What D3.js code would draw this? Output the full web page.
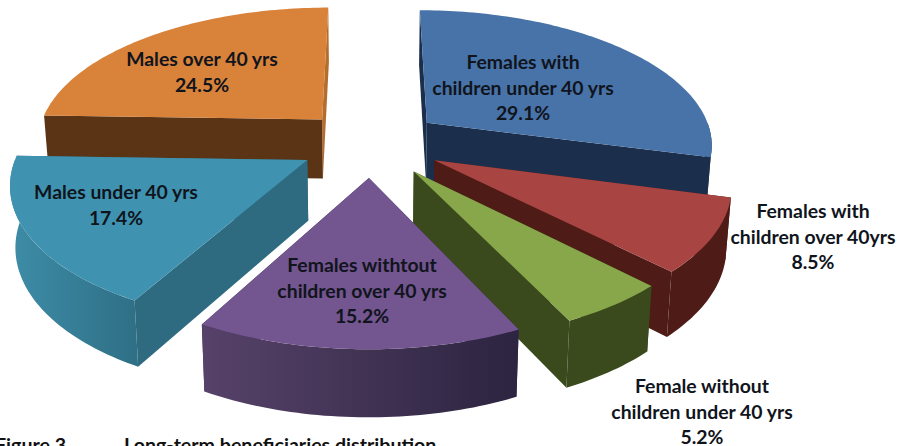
<!DOCTYPE html>
<html>
<head>
<meta charset="utf-8">
<script src="https://d3js.org/d3.v7.min.js"></script>
<style>
html, body { margin: 0; padding: 0; background: #fff; overflow: hidden; }
text { font-family: Lato, "Open Sans", sans-serif; font-weight: 700; }
</style>
</head>
<body>
<div id="chart"></div>
<script>
// share of long-term beneficiaries, clockwise from twelve o'clock
var groups = ["Females with children under 40 yrs", "Females with children over 40yrs",
  "Female without children under 40 yrs", "Females withtout children over 40 yrs",
  "Males under 40 yrs", "Males over 40 yrs"];
var shares = [29.1, 8.5, 5.2, 15.2, 17.4, 24.5];

var topColors = ["#4873a8", "#a84543", "#87a74a", "#73558f", "#3f93b0", "#d9823a"];
var wallColors = ["#1b2f4c", "#4e1b17", "#3a4a1d", "#3a2d50", "#2f6b80", "#5a3414"];
var backWallColors = ["#1b2f4c", "#4e1b17", "#3a4a1d", "#3a2d50", "#2f6b80", "#b56d2e"];
var outerFrom = ["#1b2f4c", "#4e1b17", "#3a4a1d", "#574269", "#3d8ba6", "#5a3414"];
var outerTo = ["#1b2f4c", "#4e1b17", "#3a4a1d", "#2c2440", "#2f7086", "#5a3414"];

// label lines, one block per slice
var labelLines = [
  ["Females with", "children under 40 yrs", "29.1%"],
  ["Females with", "children over 40yrs", "8.5%"],
  ["Female without", "children under 40 yrs", "5.2%"],
  ["Females withtout", "children over 40 yrs", "15.2%"],
  ["Males under 40 yrs", "17.4%"],
  ["Males over 40 yrs", "24.5%"]
];
var labelX = [523, 813, 702, 362, 116, 202];
var labelY = [69, 218, 393, 272, 199, 66];

var width = 897, height = 446;
var cx = 371, cy = 143;
var radius = 287, explode = 72, thick = 60;
var depth = 1955, horizon = 917; // perspective of the ground plane

var svg = d3.select("#chart").append("svg")
  .attr("width", width)
  .attr("height", height);
var defs = svg.append("defs");

// ground plane -> screen; drop = 1 gives the underside of the slice
function project(gx, gy, drop) {
  var s = depth / (depth - gy);
  var x = cx + gx * s * (1 - 0.015 * drop);
  var y = cy + horizon * (s - 1) + drop * thick * (1 + (s - 1) * 0.6);
  return [x, y];
}

var line = d3.line();

var arcs = d3.pie().sort(null).value(function(d) { return d; })(shares);

function rimPoint(a, o, drop) {
  return project(o[0] + radius * Math.sin(a), o[1] - radius * Math.cos(a), drop);
}

function arcPoints(a0, a1, o, drop) {
  var n = Math.max(2, Math.ceil((a1 - a0) / 0.02));
  return d3.range(n + 1).map(function(i) {
    return rimPoint(a0 + (a1 - a0) * i / n, o, drop);
  });
}

// back to front so nearer slices cover the ones behind
var order = [5, 0, 1, 4, 2, 3];

order.forEach(function(i) {
  var d = arcs[i];
  var a0 = d.startAngle, a1 = d.endAngle, mid = (a0 + a1) / 2;
  var o = [explode * Math.sin(mid), -explode * Math.cos(mid)];
  var g = svg.append("g");

  var apexTop = project(o[0], o[1], 0), apexBottom = project(o[0], o[1], 1);

  // radial walls: the ones facing away first
  var walls = [a0, a1].map(function(a) {
    var facing = a === a0 ? Math.sin(a) < -1e-6 : Math.sin(a) > 1e-6;
    return { a: a, facing: facing };
  }).sort(function(p, q) { return p.facing - q.facing; });

  walls.forEach(function(w) {
    g.append("path")
      .attr("d", line([apexTop, rimPoint(w.a, o, 0), rimPoint(w.a, o, 1), apexBottom]) + "Z")
      .attr("fill", w.facing ? wallColors[i] : backWallColors[i]);
  });

  // only the near part of the rim is ever seen
  var r0 = Math.max(a0, Math.PI / 2), r1 = Math.min(a1, Math.PI * 1.5);
  if (r1 > r0) {
    var id = "rim" + i;
    var left = rimPoint(r1, o, 0)[0], right = rimPoint(r0, o, 0)[0];
    var grad = defs.append("linearGradient").attr("id", id)
      .attr("gradientUnits", "userSpaceOnUse")
      .attr("x1", left).attr("x2", right).attr("y1", 0).attr("y2", 0);
    grad.append("stop").attr("offset", 0).attr("stop-color", outerFrom[i]);
    grad.append("stop").attr("offset", 1).attr("stop-color", outerTo[i]);
    var upper = arcPoints(r0, r1, o, 0), lower = arcPoints(r0, r1, o, 1).reverse();
    g.append("path")
      .attr("d", line(upper.concat(lower)) + "Z")
      .attr("fill", "url(#" + id + ")");
  }

  g.append("path")
    .attr("d", line([apexTop].concat(arcPoints(a0, a1, o, 0))) + "Z")
    .attr("fill", topColors[i]);
});

// labels
labelLines.forEach(function(lines, i) {
  var t = svg.append("text")
    .attr("text-anchor", "middle")
    .attr("font-size", 19.4)
    .attr("fill", "#10141c");
  lines.forEach(function(l, j) {
    t.append("tspan")
      .attr("x", labelX[i])
      .attr("y", labelY[i] + j * 25.5)
      .text(l);
  });
});

// caption
svg.append("text").attr("x", -5).attr("y", 451.5).attr("font-size", 19.6).attr("fill", "#111").text("Figure 3");
svg.append("text").attr("x", 124).attr("y", 451.5).attr("font-size", 19.6).attr("fill", "#111").text("Long-term beneficiaries distribution");
</script>
</body>
</html>
